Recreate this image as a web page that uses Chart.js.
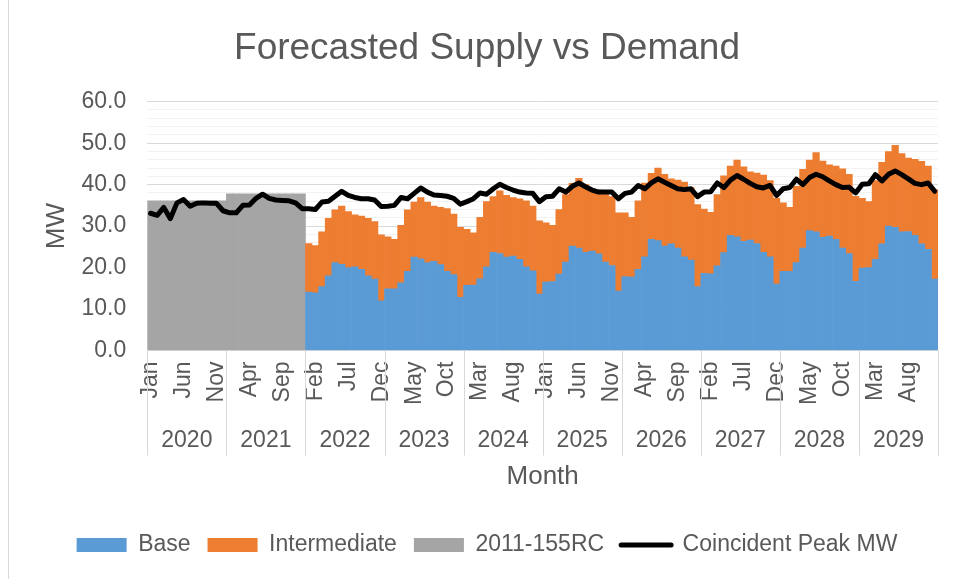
<!DOCTYPE html>
<html>
<head>
<meta charset="utf-8">
<title>Forecasted Supply vs Demand</title>
<script src="https://cdn.jsdelivr.net/npm/chart.js@4.4.1/dist/chart.umd.min.js"></script>
<style>
  html, body { margin: 0; padding: 0; background: #fff; }
  #wrap { position: relative; width: 957px; height: 579px; }
  #frame { position: absolute; left: 8px; top: 0; width: 949px; height: 579px;
           border-left: 1px solid #d9d9d9; box-sizing: border-box; pointer-events: none; }
</style>
</head>
<body>
<div id="wrap">
  <canvas id="chart" width="957" height="579"></canvas>
  <div id="frame"></div>
</div>
<script>
// ─── Data (MW, monthly Jan 2020 – Dec 2029) ─────────────────
const YEARS  = ['2020', '2021', '2022', '2023', '2024', '2025', '2026', '2027', '2028', '2029'];
const MONTHS = ['Jan', 'Feb', 'Mar', 'Apr', 'May', 'Jun', 'Jul', 'Aug', 'Sep', 'Oct', 'Nov', 'Dec'];

// 2011-155RC block, 2020–2021 only
const RC_2011 = [
  36.1, 36.1, 36.1, 36.1, 36.1, 36.1, 36.1, 36.1, 36.1, 36.1, 36.1, 36.1,
  37.8, 37.8, 37.8, 37.8, 37.8, 37.8, 37.8, 37.8, 37.8, 37.8, 37.8, 37.8,
];

// Base and Intermediate, 2022–2029
const BASE = [
  14.1, 13.9, 15.4, 18.0, 21.2, 20.8, 20.0, 20.2, 19.6, 18.0, 17.2, 12.0,
  14.9, 14.9, 16.3, 19.1, 22.5, 22.1, 21.2, 21.5, 20.7, 19.1, 18.3, 12.8,
  15.7, 15.8, 17.3, 20.2, 23.7, 23.4, 22.5, 22.8, 22.0, 20.2, 19.2, 13.6,
  16.5, 16.6, 18.4, 21.3, 25.2, 24.7, 23.7, 24.0, 23.3, 21.3, 20.5, 14.3,
  17.8, 17.7, 19.6, 22.6, 26.8, 26.5, 25.2, 25.7, 24.7, 22.6, 21.8, 15.4,
  18.6, 18.5, 20.4, 23.6, 27.8, 27.4, 26.3, 26.6, 25.8, 23.7, 22.6, 16.0,
  19.1, 19.1, 21.2, 24.7, 28.9, 28.6, 27.3, 27.6, 26.8, 24.7, 23.4, 16.7,
  19.9, 20.0, 22.0, 25.7, 30.0, 29.7, 28.6, 28.7, 27.8, 25.7, 24.4, 17.2,
];
const INTERMEDIATE = [
  11.7, 11.4, 13.2, 13.9, 12.7, 14.0, 13.5, 12.5, 12.8, 13.9, 13.9, 15.9,
  12.5, 11.9, 13.9, 14.8, 13.3, 14.8, 14.6, 13.3, 13.8, 15.1, 14.6, 16.9,
  13.5, 12.6, 14.8, 15.7, 13.4, 15.1, 14.9, 14.1, 14.6, 15.9, 15.6, 17.7,
  14.3, 13.6, 15.6, 16.3, 15.1, 16.8, 16.3, 15.0, 15.4, 17.0, 16.6, 18.9,
  15.4, 14.4, 16.5, 17.8, 15.9, 17.5, 17.3, 15.7, 16.4, 18.0, 17.5, 19.8,
  15.5, 14.8, 17.2, 18.5, 16.7, 18.5, 18.0, 16.5, 17.0, 18.6, 18.4, 20.7,
  16.5, 15.4, 18.4, 19.0, 17.0, 19.1, 18.4, 17.2, 17.7, 19.1, 19.1, 20.5,
  16.8, 15.9, 19.0, 19.7, 18.0, 19.8, 18.9, 17.7, 18.3, 19.9, 20.1, 21.6,
];

// Coincident Peak MW, 2020–2029
const PEAK = [
  33.1, 32.6, 34.5, 31.8, 35.6, 36.4, 34.8, 35.5, 35.6, 35.5, 35.5, 33.7,
  33.2, 33.2, 35.0, 35.1, 36.7, 37.7, 36.7, 36.3, 36.2, 36.1, 35.6, 34.2,
  34.2, 34.0, 35.8, 36.0, 37.2, 38.4, 37.4, 36.9, 36.6, 36.6, 36.3, 34.7,
  34.8, 35.0, 36.9, 36.6, 37.9, 39.2, 38.2, 37.5, 37.4, 37.2, 36.7, 35.3,
  35.9, 36.6, 38.0, 37.7, 39.0, 40.1, 39.3, 38.7, 38.2, 38.0, 37.9, 35.9,
  37.1, 37.2, 39.0, 38.2, 39.6, 40.4, 39.5, 38.7, 38.2, 38.2, 38.2, 36.6,
  37.9, 38.2, 39.8, 39.0, 40.4, 41.4, 40.6, 39.8, 39.0, 38.8, 39.0, 37.1,
  38.2, 38.3, 40.4, 39.3, 41.1, 42.2, 41.3, 40.3, 39.5, 39.2, 39.8, 37.4,
  39.0, 39.3, 41.3, 40.0, 41.7, 42.5, 41.9, 40.9, 40.0, 39.3, 39.4, 38.0,
  40.1, 40.2, 42.4, 40.9, 42.5, 43.3, 42.4, 41.4, 40.3, 40.0, 40.4, 38.4,
];

const Y_MIN = 0, Y_MAX = 60, Y_MAJOR = 10, Y_MINOR = 2;
const LABEL_EVERY = 5;

// ─── Styling ────────────────────────────────────────────────
const TEXT   = '#595959';
const FONT   = '"Liberation Sans", Arial, sans-serif';
const BLUE   = '#5b9bd5';
const ORANGE = '#ed7d31';
const GREY   = '#a5a5a5';

Chart.defaults.font.family = FONT;
Chart.defaults.color = TEXT;

const labels = [];
YEARS.forEach(y => MONTHS.forEach(m => labels.push(m + ' ' + y)));
const pad = Array(RC_2011.length).fill(null);

// second category row (years) + separators under the month labels
const yearAxis = {
  id: 'yearAxis',
  afterDraw(chart) {
    const x = chart.scales.x;
    const area = chart.chartArea;
    const ctx = chart.ctx;
    const step = x.getPixelForValue(1) - x.getPixelForValue(0);
    ctx.save();
    ctx.strokeStyle = '#d9d9d9';
    ctx.lineWidth = 1;
    ctx.fillStyle = TEXT;
    ctx.font = '23px ' + FONT;
    ctx.textAlign = 'center';
    ctx.textBaseline = 'middle';
    YEARS.forEach((yr, i) => {
      const left  = x.getPixelForValue(i * 12) - step / 2;
      const right = x.getPixelForValue(i * 12 + 11) + step / 2;
      const edges = i === YEARS.length - 1 ? [left, right] : [left];
      edges.forEach(px => {
        const p = Math.round(px) + 0.5;
        ctx.beginPath();
        ctx.moveTo(p, area.bottom);
        ctx.lineTo(p, area.bottom + 105);
        ctx.stroke();
      });
      ctx.fillText(yr, (left + right) / 2, area.bottom + 90);
    });
    ctx.restore();
  }
};

new Chart(document.getElementById('chart'), {
  type: 'bar',
  data: {
    labels,
    datasets: [
      { label: 'Base', data: pad.concat(BASE), backgroundColor: BLUE, order: 1 },
      { label: 'Intermediate', data: pad.concat(INTERMEDIATE), backgroundColor: ORANGE, order: 1 },
      { label: '2011-155RC', data: RC_2011.concat(Array(BASE.length).fill(null)), backgroundColor: GREY, order: 1 },
      {
        type: 'line', label: 'Coincident Peak MW', data: PEAK,
        borderColor: '#000', backgroundColor: '#000', borderWidth: 5,
        pointRadius: 0, tension: 0, borderJoinStyle: 'round', borderCapStyle: 'round',
        order: 0,
      },
    ],
  },
  options: {
    responsive: false,
    animation: false,
    layout: { padding: { left: 36, right: 19, top: 0, bottom: 12.5 } },
    datasets: { bar: { barPercentage: 1, categoryPercentage: 1, borderWidth: 0 } },
    plugins: {
      tooltip: { enabled: false },
      title: {
        display: true,
        text: 'Forecasted Supply vs Demand',
        color: TEXT,
        font: { size: 37, weight: 'normal' },
        padding: { top: 27, bottom: 30.3 },
      },
      legend: {
        position: 'bottom',
        labels: {
          usePointStyle: true,
          pointStyleWidth: 50,
          boxHeight: 14,
          padding: 17,
          color: TEXT,
          font: { size: 23 },
          generateLabels: chart => chart.data.datasets.map((ds, i) => {
            const isLine = ds.type === 'line';
            return {
              text: ds.label,
              fillStyle: isLine ? ds.borderColor : ds.backgroundColor,
              strokeStyle: isLine ? ds.borderColor : ds.backgroundColor,
              lineWidth: isLine ? 5 : 0,
              lineCap: 'round',
              pointStyle: isLine ? 'line' : 'rect',
              fontColor: TEXT,
              hidden: false,
              datasetIndex: i,
            };
          }),
        },
      },
    },
    scales: {
      x: {
        stacked: true,
        grid: { display: false },
        border: { display: false },
        ticks: {
          autoSkip: false, minRotation: 90, maxRotation: 90, padding: 3,
          color: TEXT, font: { size: 23 },
          callback: (v, i) => (i % LABEL_EVERY === 0 ? MONTHS[i % 12] : ''),
        },
        title: {
          display: true, text: 'Month', color: TEXT,
          font: { size: 26 }, padding: { top: 0, bottom: 24 },
        },
        afterFit: s => {
          s.height = 166;
          s.paddingLeft = 0;
          s.paddingRight = 0;
        },
      },
      y: {
        stacked: true,
        min: Y_MIN, max: Y_MAX,
        border: { display: false },
        grid: {
          drawTicks: false,
          color: c => (c.tick && c.tick.value % Y_MAJOR === 0 ? '#d9d9d9' : '#f2f2f2'),
        },
        ticks: {
          stepSize: Y_MINOR, autoSkip: false, padding: 21,
          color: TEXT, font: { size: 23 },
          callback: v => (v % Y_MAJOR === 0 ? v.toFixed(1) : ''),
        },
        title: {
          display: true, text: 'MW', color: TEXT,
          font: { size: 26 }, padding: { top: 5, bottom: 0 },
        },
        afterFit: s => { s.width = 111.3; },
      },
    },
  },
  plugins: [yearAxis],
});
</script>
</body>
</html>
